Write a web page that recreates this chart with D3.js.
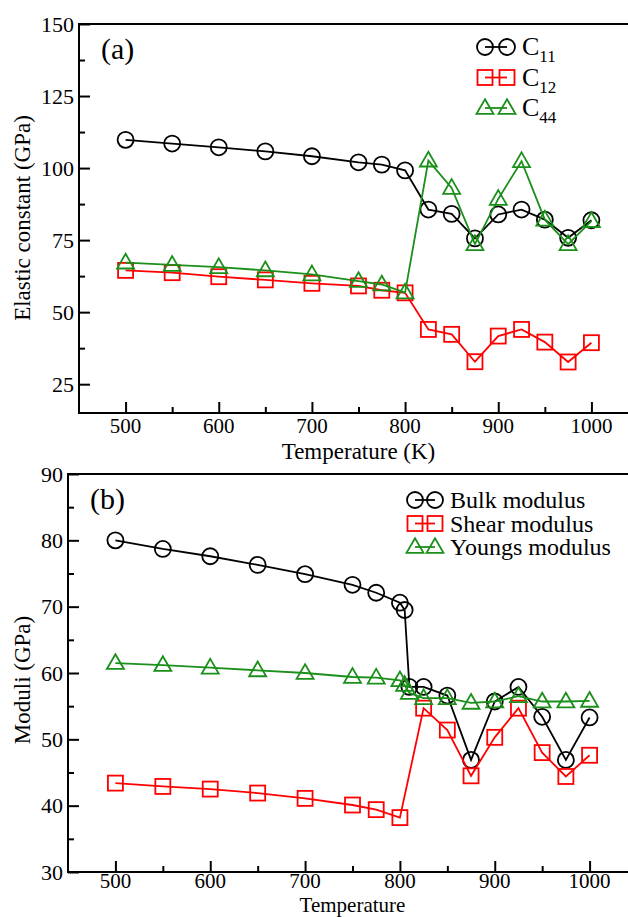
<!DOCTYPE html>
<html>
<head>
<meta charset="utf-8">
<script src="https://cdn.jsdelivr.net/npm/d3@7"></script>
<style>
  body { margin: 0; background: #fff; }
  text { font-family: "Liberation Serif", "Times New Roman", serif; fill: #000; }
</style>
</head>
<body>
<script>
// panel (a) data
var tempsA = [500, 550, 600, 650, 700, 750, 775, 800, 825, 850, 875, 900, 925, 950, 975, 1000];
var c11 = [109.8, 108.5, 107.2, 105.8, 104.1, 102.0, 101.2, 99.2, 85.6, 84.1, 75.6, 83.9, 85.6, 82.1, 75.8, 81.9];
var c12 = [64.5, 63.7, 62.3, 61.2, 60.0, 59.1, 57.6, 56.7, 44.0, 42.3, 32.8, 41.7, 44.0, 39.6, 32.7, 39.4];
var c44 = [67.2, 66.4, 65.6, 64.5, 63.1, 60.8, 59.6, 56.8, 102.6, 93.1, 73.6, 89.3, 102.4, 82.1, 73.6, 81.6];

// panel (b) data
var tempsB = [500, 550, 600, 650, 700, 750, 775, 800, 805, 810, 825, 850, 875, 900, 925, 950, 975, 1000];
var bulk = [80.0, 78.7, 77.6, 76.3, 74.9, 73.3, 72.1, 70.6, 69.5, 57.9, 57.9, 56.6, 46.9, 55.7, 57.9, 53.4, 46.9, 53.3];
var young = [61.5, 61.2, 60.8, 60.4, 60.0, 59.4, 59.3, 58.9, 58.2, 57.0, 56.2, 56.2, 55.5, 55.7, 56.5, 55.7, 55.7, 55.8];
var tempsShear = [500, 550, 600, 650, 700, 750, 775, 800, 825, 850, 875, 900, 925, 950, 975, 1000];
var shear = [43.4, 42.9, 42.5, 41.9, 41.1, 40.1, 39.4, 38.2, 54.7, 51.4, 44.5, 50.3, 54.7, 48.0, 44.4, 47.6];

var xTicks = [500, 600, 700, 800, 900, 1000];
var xMinor = [550, 650, 750, 850, 950];
var yTicksA = [25, 50, 75, 100, 125, 150];
var yMinorA = [37.5, 62.5, 87.5, 112.5, 137.5];
var yTicksB = [30, 40, 50, 60, 70, 80, 90];
var yMinorB = [35, 45, 55, 65, 75, 85];

var green = "#1a8f1a";

var svg = d3.select("body")
    .append("svg")
    .attr("width", 628)
    .attr("height", 917);

function drawMarker(g, shape, x, y, color){
    if (shape == "circle") {
        g.append("circle").attr("cx", x).attr("cy", y).attr("r", 8)
            .style("fill", "none").style("stroke", color).style("stroke-width", 1.8);
    } else if (shape == "square") {
        g.append("rect").attr("x", x - 7.5).attr("y", y - 7.5).attr("width", 15).attr("height", 15)
            .style("fill", "none").style("stroke", color).style("stroke-width", 1.8);
    } else {
        g.append("path").attr("d", d3.symbol().type(d3.symbolTriangle).size(125)())
            .attr("transform", "translate(" + x + "," + (y + 1) + ")")
            .style("fill", "none").style("stroke", color).style("stroke-width", 1.8);
    }
}

function drawPanel(p){
    var x = d3.scaleLinear().domain([450, 1050]).range([p.left, p.right]);
    var y = d3.scaleLinear().domain(p.yDomain).range([p.bottom, p.top]);
    var g = svg.append("g");

    // frame (right side falls outside the picture)
    g.append("path")
        .attr("d", "M" + p.right + "," + p.top + "H" + p.left + "V" + p.bottom + "H" + p.right)
        .style("fill", "none").style("stroke", "#000").style("stroke-width", 2);

    // inward ticks, bottom axis
    var xAxis = d3.axisTop(x).tickValues(xTicks).tickSize(11).tickFormat("");
    g.append("g").attr("transform", "translate(0," + p.bottom + ")").call(xAxis);
    var xAxisMinor = d3.axisTop(x).tickValues(xMinor).tickSize(6).tickFormat("");
    g.append("g").attr("transform", "translate(0," + p.bottom + ")").call(xAxisMinor);
    // inward ticks, left axis
    var yAxis = d3.axisRight(y).tickValues(p.yTicks).tickSize(11).tickFormat("");
    g.append("g").attr("transform", "translate(" + p.left + ",0)").call(yAxis);
    var yAxisMinor = d3.axisRight(y).tickValues(p.yMinor).tickSize(6).tickFormat("");
    g.append("g").attr("transform", "translate(" + p.left + ",0)").call(yAxisMinor);
    g.selectAll(".domain").remove();
    g.selectAll(".tick line").style("stroke", "#000").style("stroke-width", 2);

    // tick labels
    g.selectAll(".xlab").data(xTicks).enter().append("text")
        .attr("x", function(d){ return x(d); })
        .attr("y", p.bottom + p.tickDy)
        .attr("text-anchor", "middle")
        .style("font-size", "21px")
        .text(function(d){ return d; });
    g.selectAll(".ylab").data(p.yTicks).enter().append("text")
        .attr("x", p.left - 5)
        .attr("y", function(d){ return y(d) + 7.5; })
        .attr("text-anchor", "end")
        .style("font-size", "22px")
        .text(function(d){ return d; });

    // axis titles
    g.append("text")
        .attr("x", (p.left + p.right) / 2)
        .attr("y", p.xTitleY)
        .attr("text-anchor", "middle")
        .style("font-size", p.xTitleFont)
        .text(p.xTitle);
    g.append("text")
        .attr("transform", "translate(30," + p.yTitleCenter + ") rotate(-90)")
        .attr("text-anchor", "middle")
        .style("font-size", "23px")
        .text(p.yTitle);

    // panel tag
    g.append("text").attr("x", p.left + 22).attr("y", p.top + 35)
        .style("font-size", "30px").text(p.tag);

    // series
    p.series.forEach(function(s){
        var pts = s.xs.map(function(t, i){ return [t, s.ys[i]]; });
        var line = d3.line()
            .x(function(d){ return x(d[0]); })
            .y(function(d){ return y(d[1]); });
        g.append("path").datum(pts).attr("d", line)
            .style("fill", "none").style("stroke", s.color).style("stroke-width", 1.8);
        pts.forEach(function(d){
            drawMarker(g, s.shape, x(d[0]), y(d[1]), s.color);
        });
    });

    // legend
    p.series.forEach(function(s, i){
        var ly = p.legY + i * p.legStep;
        g.append("line").attr("x1", p.legX).attr("x2", p.legX + p.legGap)
            .attr("y1", ly).attr("y2", ly)
            .style("stroke", s.color).style("stroke-width", 1.8);
        drawMarker(g, s.shape, p.legX, ly, s.color);
        drawMarker(g, s.shape, p.legX + p.legGap, ly, s.color);
        var t = g.append("text").attr("x", p.legX + p.legGap + 15).attr("y", ly + 8)
            .style("font-size", p.legFont);
        if (s.sub) {
            t.append("tspan").text(s.name);
            t.append("tspan").attr("dy", 7).style("font-size", "17px").text(s.sub);
        } else {
            t.text(s.name);
        }
    });
}

drawPanel({
    left: 79, right: 638, top: 24, bottom: 413,
    yDomain: [15, 150], yTicks: yTicksA, yMinor: yMinorA,
    tickDy: 20,
    xTitle: "Temperature (K)", xTitleY: 459, xTitleFont: "23px",
    yTitle: "Elastic constant (GPa)", yTitleCenter: 218,
    tag: "(a)",
    legX: 485, legGap: 22, legY: 47, legStep: 30.5, legFont: "26px",
    series: [
        {name: "C", sub: "11", xs: tempsA, ys: c11, color: "#000", shape: "circle"},
        {name: "C", sub: "12", xs: tempsA, ys: c12, color: "#ff0000", shape: "square"},
        {name: "C", sub: "44", xs: tempsA, ys: c44, color: green, shape: "triangle"}
    ]
});

drawPanel({
    left: 68, right: 637, top: 474, bottom: 872,
    yDomain: [30, 90], yTicks: yTicksB, yMinor: yMinorB,
    tickDy: 16,
    xTitle: "Temperature", xTitleY: 912, xTitleFont: "21px",
    yTitle: "Moduli (GPa)", yTitleCenter: 680,
    tag: "(b)",
    legX: 415, legGap: 20, legY: 500, legStep: 23.5, legFont: "24px",
    series: [
        {name: "Bulk modulus", xs: tempsB, ys: bulk, color: "#000", shape: "circle"},
        {name: "Shear modulus", xs: tempsShear, ys: shear, color: "#ff0000", shape: "square"},
        {name: "Youngs modulus", xs: tempsB, ys: young, color: green, shape: "triangle"}
    ]
});
</script>
</body>
</html>
